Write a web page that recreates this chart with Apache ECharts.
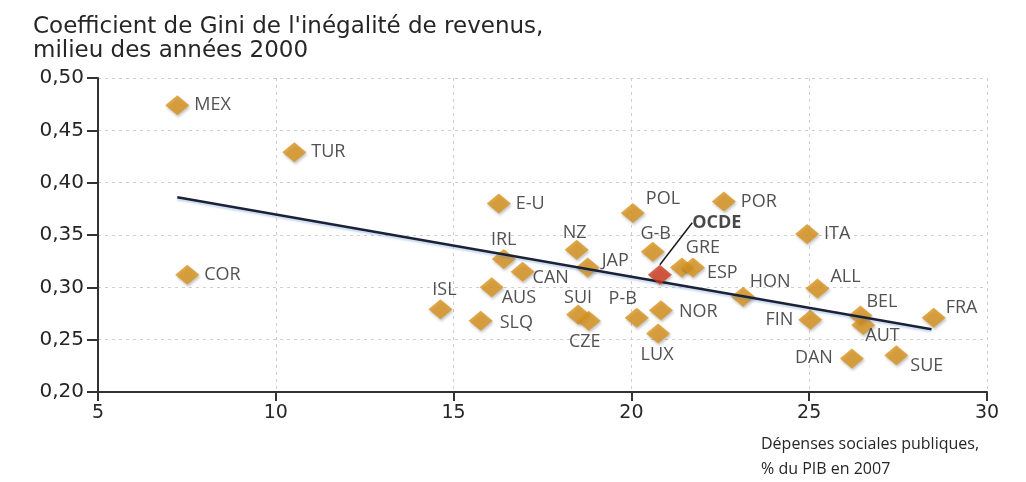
<!DOCTYPE html>
<html>
<head>
<meta charset="utf-8">
<script src="https://cdn.jsdelivr.net/npm/echarts@6/dist/echarts.min.js"></script>
<style>
  html, body { margin: 0; padding: 0; background: #fff; }
  #chart { width: 1026px; height: 482px; }
</style>
</head>
<body>
<div id="chart"></div>
<script>
// Pays (abréviations) et valeurs
const countries = ['MEX', 'TUR', 'COR', 'E-U', 'POL', 'POR', 'NZ', 'G-B', 'JAP', 'IRL', 'CAN',
    'ISL', 'AUS', 'SLQ', 'SUI', 'CZE', 'P-B', 'NOR', 'LUX', 'GRE', 'ESP', 'HON', 'ALL', 'ITA',
    'FIN', 'BEL', 'AUT', 'DAN', 'SUE', 'FRA'];
// Dépenses sociales publiques, % du PIB en 2007
const socialSpending = [7.23, 10.52, 7.51, 16.27, 20.04, 22.6, 18.46, 20.6, 18.77, 16.41, 16.94,
    14.63, 16.07, 15.76, 18.5, 18.8, 20.15, 20.83, 20.75, 21.42, 21.73, 23.14, 25.23, 24.94,
    25.03, 26.44, 26.52, 26.2, 27.45, 28.5];
// Coefficient de Gini, milieu des années 2000
const giniValues = [0.474, 0.429, 0.312, 0.380, 0.371, 0.382, 0.336, 0.334, 0.319, 0.327, 0.315,
    0.279, 0.300, 0.268, 0.274, 0.268, 0.271, 0.278, 0.256, 0.319, 0.319, 0.291, 0.299, 0.351,
    0.269, 0.273, 0.264, 0.232, 0.235, 0.271];
// Moyenne OCDE
const oecdSpending = [20.8];
const oecdGini = [0.312];
// Droite de tendance
const trendX = [7.23, 28.44];
const trendY = [0.386, 0.260];
// Graduations
const xTicks = [5, 10, 15, 20, 25, 30];
const yTicks = [0.20, 0.25, 0.30, 0.35, 0.40, 0.45, 0.50];

// placement des étiquettes : [position, décalage x, décalage y]
const labelPlacement = {
    'POL': ['right', -4, -14], 'NZ': ['top', -2, 7], 'G-B': ['top', 3, 6],
    'JAP': ['right', -3, -7], 'IRL': ['top', 0, 5], 'CAN': ['right', -7, 6],
    'ISL': ['top', 4, 5], 'AUS': ['right', -7, 11], 'SLQ': ['right', 2, 2],
    'SUI': ['top', 0, 7], 'CZE': ['bottom', -4, -3], 'P-B': ['top', -14, 5],
    'NOR': ['right', 1, 2], 'LUX': ['bottom', -1, -3], 'GRE': ['top', 21, 4],
    'ESP': ['right', -3, 5], 'HON': ['top', 27, 9], 'ALL': ['right', -4, -12],
    'FIN': ['left', 0, 0], 'BEL': ['right', -11, -14], 'AUT': ['right', -15, 11],
    'DAN': ['left', -2, -1], 'SUE': ['right', -3, 11], 'FRA': ['right', -5, -10]
};

const FONT = '"Open Sans", sans-serif';
const WIDE_FONT = '"DejaVu Sans", sans-serif';
const diamondColor = '#d8921c';
const textColor = '#262626';

const pointData = countries.map((name, i) => {
    const p = labelPlacement[name] || ['right', 0, 0];
    return {
        name: name,
        value: [socialSpending[i], giniValues[i]],
        label: { position: p[0], offset: [p[1], p[2]] }
    };
});

const chart = echarts.init(document.getElementById('chart'));

const option = {
    animation: false,
    backgroundColor: '#ffffff',
    textStyle: { fontFamily: FONT },
    title: [
        {
            text: "Coefficient de Gini de l'inégalité de revenus,\nmilieu des années 2000",
            left: 28,
            top: 10,
            textStyle: { fontFamily: WIDE_FONT, fontSize: 23, fontWeight: 'normal', color: textColor, lineHeight: 24 }
        },
        {
            text: 'Dépenses sociales publiques,\n% du PIB en 2007',
            left: 756,
            top: 427,
            textStyle: { fontFamily: FONT, fontSize: 16, fontWeight: 'normal', color: textColor, lineHeight: 25 }
        }
    ],
    grid: { left: 98, right: 39, top: 78, bottom: 90 },
    xAxis: {
        type: 'value',
        min: xTicks[0],
        max: xTicks[xTicks.length - 1],
        interval: 5,
        axisLine: { show: true, lineStyle: { color: '#333', width: 2 } },
        axisTick: { show: true, length: 9, lineStyle: { color: '#333', width: 2 } },
        axisLabel: { fontFamily: WIDE_FONT, fontSize: 19, color: textColor, margin: 12 },
        splitLine: { show: true, lineStyle: { color: '#cfcfcf', type: [3, 4], width: 1 } }
    },
    yAxis: {
        type: 'value',
        min: yTicks[0],
        max: yTicks[yTicks.length - 1],
        interval: 0.05,
        axisLine: { show: true, lineStyle: { color: '#333', width: 2 } },
        axisTick: { show: true, length: 11, lineStyle: { color: '#333', width: 2 } },
        axisLabel: {
            fontFamily: WIDE_FONT, fontSize: 20, color: textColor, margin: 14,
            formatter: v => v.toFixed(2).replace('.', ',')
        },
        splitLine: { show: true, lineStyle: { color: '#cfcfcf', type: [3, 4], width: 1 } }
    },
    series: [
        {
            name: 'tendance',
            type: 'line',
            data: trendX.map((x, i) => [x, trendY[i]]),
            symbol: 'none',
            lineStyle: {
                color: '#1b2238', width: 2.5,
                shadowColor: 'rgba(90,140,200,0.35)', shadowBlur: 2, shadowOffsetY: 2
            },
            z: 3
        },
        {
            name: 'pays',
            type: 'scatter',
            data: pointData,
            symbol: 'diamond',
            symbolSize: [24, 20],
            itemStyle: {
                color: diamondColor,
                shadowColor: 'rgba(0,0,0,0.3)', shadowBlur: 3, shadowOffsetX: 1, shadowOffsetY: 2
            },
            label: {
                show: true,
                formatter: '{b}',
                fontFamily: FONT,
                fontSize: 18,
                color: textColor
            },
            z: 2
        },
        {
            name: 'OCDE',
            type: 'scatter',
            data: oecdSpending.map((x, i) => ({ name: 'OCDE', value: [x, oecdGini[i]] })),
            symbol: 'diamond',
            symbolSize: [24, 20],
            itemStyle: {
                color: '#d03a1c',
                shadowColor: 'rgba(0,0,0,0.3)', shadowBlur: 3, shadowOffsetX: 1, shadowOffsetY: 2
            },
            label: {
                show: true,
                position: 'top',
                formatter: '{b}',
                fontFamily: FONT,
                fontSize: 18,
                fontWeight: 'bold',
                color: '#1a1a1a'
            },
            labelLayout: { dx: 57, dy: -28 },
            labelLine: { show: true, length2: 0, lineStyle: { color: '#1a1a1a', width: 1.5 } },
            z: 4
        }
    ]
};

chart.setOption(option);
</script>
</body>
</html>
